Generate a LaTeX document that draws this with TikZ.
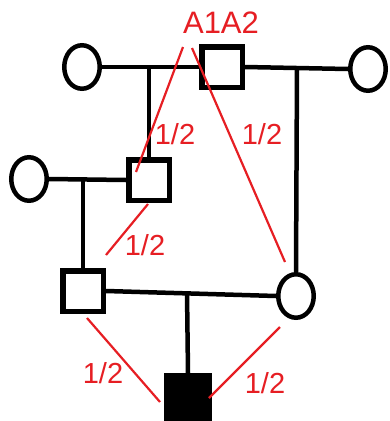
\documentclass[tikz,border=0pt]{standalone}
\usepackage{fontspec}
\setmainfont{Liberation Sans}
\usetikzlibrary{shapes.geometric}
\begin{document}
\begin{tikzpicture}[x=1pt,y=-1pt,
  male/.style={draw=black,line width=5.5pt,fill=white,rectangle,minimum size=40.5pt,inner sep=0pt},
  affected/.style={male,fill=black},
  female/.style={draw=black,line width=4.5pt,fill=white,ellipse,minimum width=35.5pt,minimum height=43.5pt,inner sep=0pt},
  link/.style={draw=black,line width=4.5pt},
  prob/.style={draw={rgb,255:red,230;green,30;blue,35},line width=2.2pt},
  lbl/.style={text={rgb,255:red,230;green,30;blue,35},font=\fontsize{29}{32}\selectfont,inner sep=0pt}]
\useasboundingbox (0,0) rectangle (390,421);
% people
\node[female] (c1) at (82,67) {};
\node[male] (s1) at (222,67) {};
\node[female] (c2) at (368,69) {};
\node[female] (c3) at (29,179) {};
\node[male] (s2) at (149,180) {};
\node[male] (s3) at (83,291) {};
\node[female] (c4) at (296,296) {};
\node[affected,minimum size=42.5pt] (s4) at (188,397) {};
% marriage and descent lines
\coordinate (m1) at (149,67);
\coordinate (m2) at (297,68);
\coordinate (m3) at (83,180);
\coordinate (m4) at (187,292);
\draw[link] (c1.east) -- (s1.west);
\draw[link] (s1.east) -- (c2.west);
\draw[link] (m1) -- (s2.north);
\draw[link] (m2) -- (c4.north);
\draw[link] (c3.east) -- (s2.west);
\draw[link] (m3) -- (s3.north);
\draw[link] (s3.east) -- (c4.west);
\draw[link] (m4) -- (s4.north);
% transmission lines
\coordinate (r1a) at (183,47);
\coordinate (r1b) at (136,172);
\coordinate (r2a) at (192,48);
\coordinate (r2b) at (285,262);
\coordinate (r3a) at (148,204);
\coordinate (r3b) at (106,255);
\coordinate (r4a) at (87,318);
\coordinate (r4b) at (160,402);
\coordinate (r5a) at (280,327);
\coordinate (r5b) at (209,398);
\draw[prob] (r1a) -- (r1b);
\draw[prob] (r2a) -- (r2b);
\draw[prob] (r3a) -- (r3b);
\draw[prob] (r4a) -- (r4b);
\draw[prob] (r5a) -- (r5b);
% labels
\node[lbl,font=\fontsize{31}{34}\selectfont] (t0) at (221,23) {A1A2};
\node[lbl] (t1) at (175,134) {1/2};
\node[lbl] (t2) at (262,134) {1/2};
\node[lbl] (t3) at (145,245) {1/2};
\node[lbl] (t4) at (103,373) {1/2};
\node[lbl] (t5) at (265,383) {1/2};
\end{tikzpicture}
\end{document}
